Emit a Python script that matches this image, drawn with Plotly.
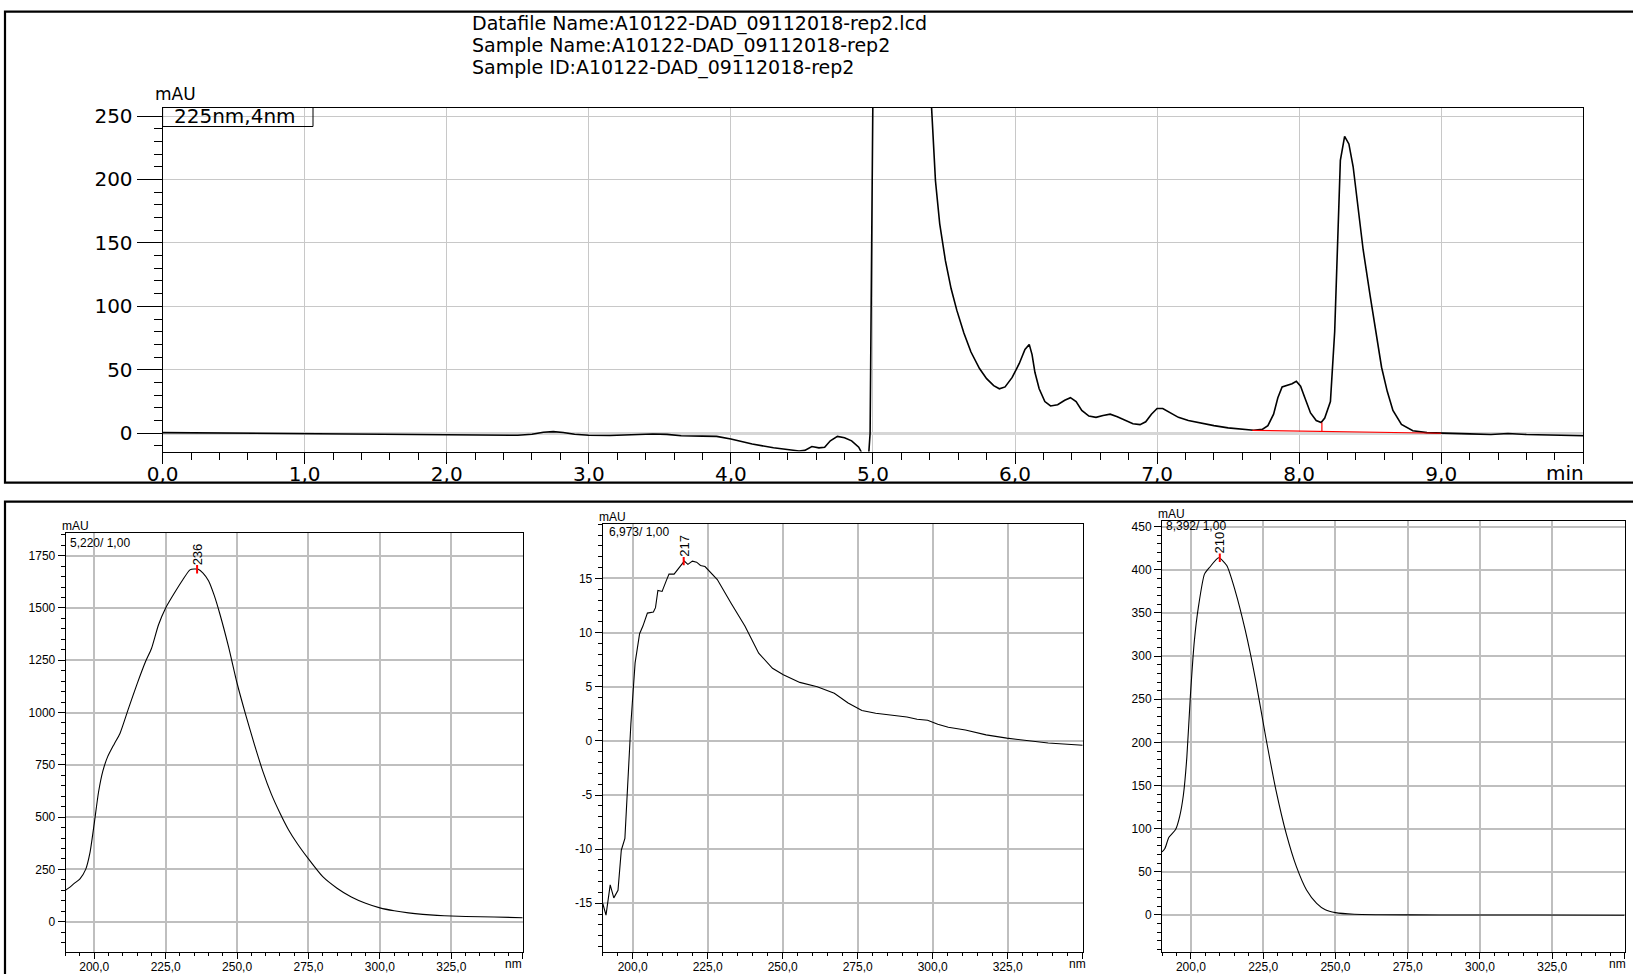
import plotly.graph_objects as go

W, H = 1633, 974

# ---------------- data ----------------
title_lines = ["Datafile Name:A10122-DAD_09112018-rep2.lcd",
               "Sample Name:A10122-DAD_09112018-rep2",
               "Sample ID:A10122-DAD_09112018-rep2"]
channel_label = "225nm,4nm"

chrom_time = [0.00, 0.25, 0.50, 0.75, 1.00, 1.25, 1.50, 1.75, 2.00, 2.25, 2.50, 2.60, 2.68, 2.75,
              2.82, 2.90, 3.00, 3.15, 3.30, 3.45, 3.55, 3.65, 3.80, 3.90, 4.00, 4.15, 4.30, 4.40,
              4.48, 4.52, 4.57, 4.62, 4.66, 4.70, 4.75, 4.80, 4.85, 4.90, 4.935, 4.965, 4.98, 5.00,
              5.08, 5.15, 5.22, 5.30, 5.37, 5.41, 5.44, 5.47, 5.51, 5.55, 5.59, 5.64, 5.69, 5.75,
              5.80, 5.85, 5.89, 5.93, 5.98, 6.03, 6.07, 6.10, 6.12, 6.14, 6.17, 6.21, 6.25, 6.30,
              6.35, 6.39, 6.43, 6.47, 6.52, 6.57, 6.62, 6.67, 6.72, 6.78, 6.83, 6.88, 6.92, 6.96,
              7.00, 7.04, 7.09, 7.15, 7.22, 7.30, 7.40, 7.50, 7.60, 7.68, 7.74, 7.78, 7.82, 7.85,
              7.88, 7.92, 7.95, 7.98, 8.01, 8.04, 8.08, 8.12, 8.155, 8.18, 8.22, 8.25, 8.27, 8.29,
              8.32, 8.35, 8.38, 8.42, 8.45, 8.50, 8.54, 8.58, 8.62, 8.66, 8.72, 8.80, 8.90, 9.00,
              9.20, 9.35, 9.47, 9.60, 9.80, 10.00]
chrom_mau = [0.5, 0.3, -0.2, -0.4, -0.8, -1.0, -1.1, -1.2, -1.3, -1.5, -1.6, -0.8, 0.8, 1.3,
             0.6, -0.8, -1.6, -1.8, -1.2, -0.6, -0.9, -2.0, -2.3, -2.5, -4.5, -8.5, -11.5, -13.2,
             -14.0, -13.5, -10.5, -11.5, -11.0, -6.0, -2.5, -3.5, -6.0, -11.0, -18.0, -25.0, 0.0, 270.0,
             900.0, 1300.0, 1400.0, 1150.0, 500.0, 262.0, 199.0, 165.0, 136.0, 114.0, 97.0, 79.0, 64.0, 51.0,
             43.0, 37.5, 35.0, 36.5, 44.0, 55.0, 66.0, 70.0, 62.0, 48.0, 35.0, 25.0, 21.5, 22.5,
             26.0, 28.0, 25.0, 18.0, 13.5, 12.5, 14.0, 15.0, 13.0, 10.0, 7.5, 6.8, 9.0, 15.0,
             19.5, 19.5, 16.5, 12.5, 10.0, 8.0, 6.0, 4.2, 3.0, 2.4, 3.0, 6.0, 15.0, 28.0,
             36.5, 38.0, 39.0, 41.0, 37.0, 28.0, 16.0, 10.0, 8.4, 12.0, 25.0, 80.0, 157.0, 215.0,
             234.0, 228.0, 210.0, 175.0, 145.0, 108.0, 78.0, 52.0, 33.0, 18.0, 7.0, 2.0, 0.5, 0.0,
             -0.5, -1.0, -0.2, -1.0, -1.7, -2.0]

baseline_time = [7.67, 9.00]
baseline_mau = [2.3, 0.0]
drop_time = [8.16, 8.16]
drop_mau = [1.45, 8.4]

top_xticks = [0, 1, 2, 3, 4, 5, 6, 7, 8, 9, 10]
top_xlabels = ["0,0", "1,0", "2,0", "3,0", "4,0", "5,0", "6,0", "7,0", "8,0", "9,0", ""]
top_yticks = [0, 50, 100, 150, 200, 250]
top_ylabels = ["0", "50", "100", "150", "200", "250"]

nm_ticks = [200, 225, 250, 275, 300, 325, 350]
nm_labels = ["200,0", "225,0", "250,0", "275,0", "300,0", "325,0", ""]

spec1_label = "5,220/ 1,00"
spec1_nm = [190, 191.5, 193, 195, 197, 198.5, 200, 201.5, 203, 204.7, 207, 209, 212, 215, 218, 220,
            222.5, 225, 228, 231, 233.5, 235, 236.4, 238, 240, 242, 244, 247, 250, 253, 256, 259,
            262, 265, 268, 271, 275, 280, 285, 290, 295, 300, 305, 310, 315, 320, 325, 330, 340, 350]
spec1_mau = [151, 165, 183, 205, 250, 330, 470, 620, 720, 789, 850, 900, 1020, 1137, 1245, 1305,
             1420, 1500, 1570, 1635, 1682, 1686, 1685, 1668, 1630, 1560, 1470, 1315, 1140, 990, 850, 720,
             610, 520, 440, 375, 300, 215, 160, 118, 88, 66, 52, 42, 35, 30, 27, 25, 22, 19]
spec1_peak = [236]
spec1_peak_mau = [1685]
spec1_yticks = [0, 250, 500, 750, 1000, 1250, 1500, 1750]
spec1_ylabels = ["0", "250", "500", "750", "1000", "1250", "1500", "1750"]

spec2_label = "6,973/ 1,00"
spec2_nm = [190, 191.1, 192.5, 193.7, 195.1, 196.2, 197.4, 198.3, 199.4, 200.8, 202.3, 203.4, 204.9,
            206.9, 207.6, 208.4, 209.8, 211.2, 212.1, 213.8, 215.5, 217.2, 218.4, 219.9, 221.3, 222.6,
            224.1, 228.2, 232.8, 237.4, 242, 246.6, 250.2, 255.7, 261.5, 267.2, 271.8, 276.4, 281,
            285.6, 291.4, 294.8, 298.3, 301.7, 305.2, 310.9, 317.8, 324.7, 331.6, 338.5, 350]
spec2_mau = [-15, -16.1, -13.3, -14.5, -13.8, -10.1, -9, -4.5, 1.6, 7.2, 9.9, 10.6, 11.8,
             11.9, 12.3, 13.9, 13.8, 14.8, 15.4, 15.4, 16.0, 16.6, 16.3, 16.6, 16.5, 16.2,
             16.1, 14.9, 12.7, 10.6, 8.1, 6.7, 6.1, 5.4, 5.0, 4.4, 3.5, 2.8, 2.55,
             2.4, 2.2, 2.0, 1.9, 1.54, 1.26, 1.0, 0.55, 0.25, 0.03, -0.2, -0.4]
spec2_peak = [217]
spec2_peak_mau = [16.6]
spec2_yticks = [-15, -10, -5, 0, 5, 10, 15]
spec2_ylabels = ["-15", "-10", "-5", "0", "5", "10", "15"]

spec3_label = "8,392/ 1,00"
spec3_nm = [190, 191, 192.4, 194.7, 196.1, 197.4, 198.6, 199.8, 201.2, 202.6, 204.7, 206.5, 209.6,
            212.4, 215.3, 218.8, 222.4, 225.9, 229.4, 233, 236.5, 240, 243.5, 246.5, 250, 256.5,
            265, 285.9, 320, 350]
spec3_mau = [73, 77, 90, 99, 114, 139, 183, 253, 318, 357, 395, 403, 414,
             405, 376, 330, 272, 206, 145, 94, 56, 29, 13.5, 6, 2.7, 0.8,
             0.3, 0, -0.1, -0.3]
spec3_peak = [210]
spec3_peak_mau = [414]
spec3_yticks = [0, 50, 100, 150, 200, 250, 300, 350, 400, 450]
spec3_ylabels = ["0", "50", "100", "150", "200", "250", "300", "350", "400", "450"]

# ---------------- helpers ----------------
def px(xp):
    return xp / W

def py(yp):
    return 1 - yp / H

TOPFONT = "DejaVu Sans, Verdana, Arial, sans-serif"
NARROW = "Liberation Sans Narrow, Arial Narrow, Liberation Sans, Arial, sans-serif"
SANS = "Liberation Sans, Arial, sans-serif"

fig = go.Figure()

# top chromatogram
fig.add_trace(go.Scatter(x=chrom_time, y=chrom_mau, mode="lines",
                         line=dict(color="black", width=1.6), xaxis="x", yaxis="y",
                         hoverinfo="skip"))
fig.add_trace(go.Scatter(x=baseline_time, y=baseline_mau, mode="lines",
                         line=dict(color="#ff0000", width=1.2), xaxis="x", yaxis="y"))
fig.add_trace(go.Scatter(x=drop_time, y=drop_mau, mode="lines",
                         line=dict(color="#ff0000", width=1.2), xaxis="x", yaxis="y"))

spectra = [
    (spec1_nm, spec1_mau, spec1_peak, spec1_peak_mau, "spline"),
    (spec2_nm, spec2_mau, spec2_peak, spec2_peak_mau, "linear"),
    (spec3_nm, spec3_mau, spec3_peak, spec3_peak_mau, "spline"),
]
for i, (xs, ys, pk, pky, shp) in enumerate(spectra):
    xa = "x%d" % (i + 2)
    ya = "y%d" % (i + 2)
    line = dict(color="black", width=1.1, shape=shp)
    if shp == "spline":
        line["smoothing"] = 0.6
    fig.add_trace(go.Scatter(x=xs, y=ys, mode="lines", line=line, xaxis=xa, yaxis=ya))
    fig.add_trace(go.Scatter(x=pk, y=pky, mode="markers",
                             marker=dict(symbol="line-ns", size=6,
                                         line=dict(color="#ff0000", width=2)),
                             xaxis=xa, yaxis=ya))

# ---------------- axes ----------------
def top_common():
    return dict(showline=True, linecolor="black", linewidth=1, mirror=True, automargin=False,
                zeroline=False, ticks="outside", tickcolor="black", tickwidth=1,
                gridcolor="#c8c8c8", gridwidth=1, showgrid=True,
                tickfont=dict(family=TOPFONT, size=20, color="black"))

xa1 = top_common()
xa1.update(domain=[px(162.6), px(1583.3)], range=[0, 10], anchor="y",
           tickmode="array", tickvals=top_xticks, ticktext=top_xlabels, ticklen=11,
           ticklabelstandoff=-7,
           minor=dict(dtick=0.2, tick0=0, ticks="outside", ticklen=7, tickcolor="black",
                      tickwidth=1, showgrid=False))
ya1 = top_common()
ya1.update(domain=[py(451.5), py(107.5)], range=[-14.4, 256.7], anchor="x",
           tickmode="array", tickvals=top_yticks, ticktext=top_ylabels, ticklen=25,
           zeroline=True, zerolinecolor="#d6d6d6", zerolinewidth=3,
           minor=dict(dtick=10, tick0=0, ticks="outside", ticklen=8, tickcolor="black",
                      tickwidth=1, showgrid=False))

def bot_common():
    return dict(showline=True, linecolor="black", linewidth=1, mirror=True, automargin=False,
                zeroline=False, ticks="outside", tickcolor="black", tickwidth=1,
                gridcolor="#bfbfbf", gridwidth=1.5, showgrid=True,
                tickfont=dict(family=NARROW, size=12, color="black"))

panels = [
    ([65.7, 522.7], [952, 533.3], [-145, 1857], spec1_yticks, spec1_ylabels, 50),
    ([602.7, 1082.7], [952, 524.3], [-19.5, 20.0], spec2_yticks, spec2_ylabels, 1),
    ([1162, 1624.5], [952, 521.0], [-42.9, 456.6], spec3_yticks, spec3_ylabels, 10),
]
axes = {"xaxis": xa1, "yaxis": ya1}
for i, (xd, yd, yr, yt, yl, ymin) in enumerate(panels):
    n = i + 2
    xa = bot_common()
    xa.update(domain=[px(xd[0]), px(xd[1])], range=[190, 350], anchor="y%d" % n,
              tickmode="array", tickvals=nm_ticks, ticktext=nm_labels, ticklen=6,
              ticklabelstandoff=-2,
              minor=dict(dtick=5, tick0=190, ticks="outside", ticklen=3, tickcolor="black",
                         tickwidth=1, showgrid=False))
    ya = bot_common()
    ya.update(domain=[py(yd[0]), py(yd[1])], range=yr, anchor="x%d" % n,
              tickmode="array", tickvals=yt, ticktext=yl, ticklen=7,
              minor=dict(dtick=ymin, tick0=0, ticks="outside", ticklen=4, tickcolor="black",
                         tickwidth=1, showgrid=False))
    axes["xaxis%d" % n] = xa
    axes["yaxis%d" % n] = ya

# ---------------- annotations ----------------
ann = []
for k, (t, yc) in enumerate(zip(title_lines, [23.3, 45.7, 67.7])):
    ann.append(dict(text=t, xref="paper", yref="paper", x=px(470), y=py(yc),
                    xanchor="left", yanchor="middle", showarrow=False,
                    font=dict(family=TOPFONT, size=19, color="black")))
ann.append(dict(text="mAU", xref="paper", yref="paper", x=px(175), y=py(94.0),
                xanchor="center", yanchor="middle", showarrow=False,
                font=dict(family=TOPFONT, size=17, color="black")))
ann.append(dict(text=channel_label, xref="paper", yref="paper", x=px(235), y=py(116.3),
                xanchor="center", yanchor="middle", showarrow=False,
                font=dict(family=TOPFONT, size=20, color="black")))
ann.append(dict(text="min", xref="paper", yref="paper", x=px(1565), y=py(473),
                xanchor="center", yanchor="middle", showarrow=False,
                font=dict(family=TOPFONT, size=20, color="black")))

bot_info = [
    ("mAU", 60, 525.7, spec1_label, 68.3, 542.7, 513),
    ("mAU", 597, 516.7, spec2_label, 606.7, 531.7, 1077),
    ("mAU", 1156, 514.0, spec3_label, 1164, 526.0, 1617),
]
for (u, ux, uy, lab, lx, ly, nmx) in bot_info:
    ann.append(dict(text=u, xref="paper", yref="paper", x=px(ux), y=py(uy),
                    xanchor="left", yanchor="middle", showarrow=False,
                    font=dict(family=NARROW, size=12, color="black")))
    ann.append(dict(text=lab, xref="paper", yref="paper", x=px(lx), y=py(ly),
                    xanchor="left", yanchor="middle", showarrow=False,
                    font=dict(family=NARROW, size=12, color="black")))
    ann.append(dict(text="nm", xref="paper", yref="paper", x=px(nmx), y=py(963.5),
                    xanchor="center", yanchor="middle", showarrow=False,
                    font=dict(family=NARROW, size=12, color="black")))

for i, (pk, pky) in enumerate([(spec1_peak, spec1_peak_mau), (spec2_peak, spec2_peak_mau),
                               (spec3_peak, spec3_peak_mau)]):
    n = i + 2
    ann.append(dict(text=str(pk[0]), x=pk[0], y=pky[0], xref="x%d" % n, yref="y%d" % n,
                    xanchor="center", yanchor="bottom", textangle=-90, showarrow=False,
                    yshift=2, font=dict(family=SANS, size=13, color="black")))

# ---------------- shapes ----------------
shapes = [
    dict(type="rect", xref="paper", yref="paper", x0=px(5), x1=1.02, y0=py(482.7), y1=py(11.7),
         line=dict(color="black", width=2.2), fillcolor="rgba(0,0,0,0)", layer="above"),
    dict(type="rect", xref="paper", yref="paper", x0=px(5), x1=1.02, y0=-0.02, y1=py(501.7),
         line=dict(color="black", width=2.2), fillcolor="rgba(0,0,0,0)", layer="above"),
    dict(type="rect", xref="paper", yref="paper", x0=px(162.6), x1=px(313), y0=py(126.5),
         y1=py(107.5), line=dict(color="black", width=1), fillcolor="rgba(0,0,0,0)",
         layer="above"),
]

fig.update_layout(width=W, height=H,
                  margin=dict(l=0, r=0, t=0, b=0, pad=0, autoexpand=False),
                  paper_bgcolor="white", plot_bgcolor="white", showlegend=False,
                  annotations=ann, shapes=shapes, **axes)

fig.write_html("out.html", config={"displayModeBar": False},
               post_script="document.body.style.margin='0';document.body.style.overflow='hidden';")
